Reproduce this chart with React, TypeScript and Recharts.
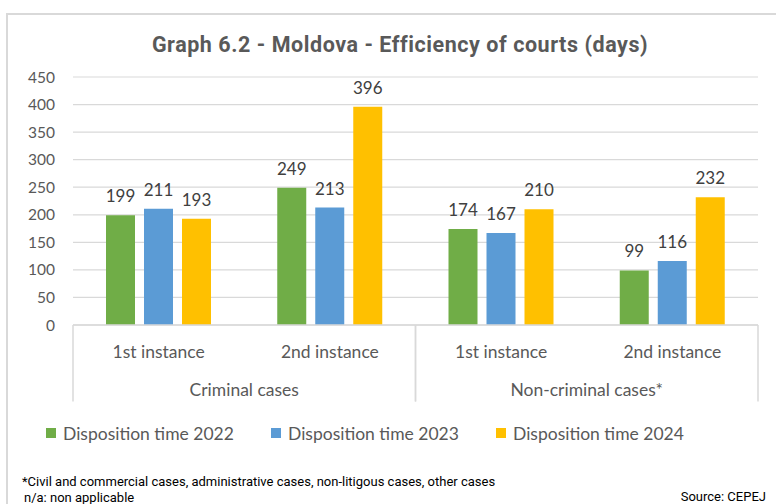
import React from 'react';
import { BarChart, Bar, XAxis, YAxis, CartesianGrid, LabelList, Legend } from 'recharts';

const instances = ['1st instance', '2nd instance', '1st instance', '2nd instance'];
const groups = ['Criminal cases', 'Criminal cases', 'Non-criminal cases*', 'Non-criminal cases*'];
const dt2022 = [199, 249, 174, 99];
const dt2023 = [211, 213, 167, 116];
const dt2024 = [193, 396, 210, 232];
const yTicks = [0, 50, 100, 150, 200, 250, 300, 350, 400, 450];
const seriesNames = ['Disposition time 2022', 'Disposition time 2023', 'Disposition time 2024'];
const seriesColors = ['#70AD47', '#5B9BD5', '#FFC000'];

const data = instances.map((inst, i) => ({
  key: `${groups[i]}|${inst}`,
  instance: inst,
  group: groups[i],
  d2022: dt2022[i],
  d2023: dt2023[i],
  d2024: dt2024[i],
}));

const W = 776;
const H = 504;
const M = { top: 77, right: 18, left: 0, bottom: 61 };
const YW = 73;
const PLOT_W = W - M.left - M.right - YW;
const HALF_GROUP = PLOT_W / 4;
const FONT = 'Lato, "Open Sans", sans-serif';

const InstanceTick = (props: any) => {
  const { x, y, payload } = props;
  const label = instances[payload.index] ?? payload.value;
  return (
    <text x={x} y={y + 26} textAnchor="middle" dominantBaseline="central" fill="#595959" fontSize={17.5} fontFamily={FONT}>
      {label}
    </text>
  );
};

const GroupTick = (props: any) => {
  const { x, y, payload } = props;
  return (
    <g>
      <line x1={x - HALF_GROUP} x2={x - HALF_GROUP} y1={y - 38} y2={y + 38.5} stroke="#d9d9d9" strokeWidth={1.5} />
      <line x1={x + HALF_GROUP} x2={x + HALF_GROUP} y1={y - 38} y2={y + 38.5} stroke="#d9d9d9" strokeWidth={1.5} />
      <text x={x} y={y + 26} textAnchor="middle" dominantBaseline="central" fill="#595959" fontSize={17.5} fontFamily={FONT}>
        {payload.value}
      </text>
    </g>
  );
};

const LegendContent = () => (
  <div style={{ height: 20, display: 'flex', alignItems: 'center', paddingLeft: 46, fontFamily: FONT, fontSize: 17.5, color: '#595959' }}>
    {seriesNames.map((n, i) => (
      <div key={n} style={{ display: 'flex', alignItems: 'center', width: 225 }}>
        <span style={{ display: 'inline-block', width: 10, height: 10, background: seriesColors[i], marginRight: 7 }} />
        <span>{n}</span>
      </div>
    ))}
  </div>
);

export default function App() {
  return (
    <div style={{ position: 'absolute', left: 0, top: 0, width: W, height: H, background: '#fff', overflow: 'hidden' }}>
      <div style={{ position: 'absolute', left: 6, top: 13, width: W, height: H, borderLeft: '2px solid #d9d9d9', borderTop: '2px solid #d9d9d9' }} />
      <div style={{ position: 'absolute', left: 0, top: 33, width: 800, lineHeight: '24px', textAlign: 'center', fontFamily: 'Roboto, sans-serif', fontWeight: 700, fontSize: 21.5, color: '#595959', letterSpacing: 0.55 }}>
        Graph 6.2 - Moldova - Efficiency of courts (days)
      </div>
      <div style={{ position: 'absolute', left: 0, top: 0 }}>
        <BarChart width={W} height={H} data={data} margin={M} barCategoryGap={33} barGap={9}>
          <CartesianGrid vertical={false} stroke="#d9d9d9" strokeWidth={1.2} />
          <XAxis dataKey="key" xAxisId={0} height={38} tickLine={false} tickSize={0} tickMargin={0}
            axisLine={{ stroke: '#d9d9d9', strokeWidth: 1.5 }} interval={0} tick={<InstanceTick />} />
          <XAxis dataKey="group" xAxisId="group" height={60} allowDuplicatedCategory={false} tickLine={false}
            tickSize={0} tickMargin={0} axisLine={false} interval={0} tick={<GroupTick />} />
          <YAxis width={YW} domain={[0, 450]} ticks={yTicks} axisLine={false} tickLine={false} tickSize={0} tickMargin={18}
            tick={{ fill: '#595959', fontSize: 15.5, fontFamily: FONT }} interval={0} />
          <Legend verticalAlign="bottom" content={<LegendContent />} />
          {['d2022', 'd2023', 'd2024'].map((k, i) => (
            <Bar key={k} dataKey={k} name={seriesNames[i]} fill={seriesColors[i]} isAnimationActive={false}>
              <LabelList dataKey={k} position="top" offset={13} fill="#404040" fontSize={17} fontFamily={FONT} />
            </Bar>
          ))}
        </BarChart>
      </div>
      <div style={{ position: 'absolute', left: 22, top: 475, lineHeight: '14px', fontFamily: 'Roboto, sans-serif', fontSize: 13, color: '#000' }}>
        *Civil and commercial cases, administrative cases, non-litigous cases, other cases
      </div>
      <div style={{ position: 'absolute', left: 24, top: 491, lineHeight: '14px', fontFamily: 'Roboto, sans-serif', fontSize: 13, color: '#000' }}>
        n/a: non applicable
      </div>
      <div style={{ position: 'absolute', right: 10, top: 490, lineHeight: '14px', fontFamily: 'Roboto, sans-serif', fontSize: 13, color: '#000' }}>
        Source: CEPEJ
      </div>
    </div>
  );
}
